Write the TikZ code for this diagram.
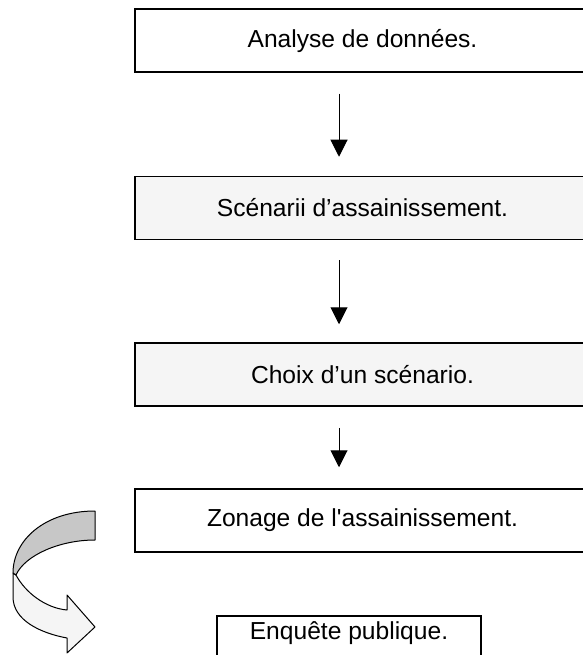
\documentclass[tikz,border=0pt]{standalone}
\usepackage{fontspec}
\setmainfont{Liberation Sans}
\usetikzlibrary{arrows.meta}

\begin{document}
\begin{tikzpicture}[x=1pt, y=-1pt, >={Triangle[width=17pt,length=17pt]},
    etape/.style={draw, line width=1.5pt, minimum width=455pt, minimum height=63pt,
        inner sep=0pt, font=\fontsize{24.6}{28}\selectfont},
    fleche/.style={->, line width=1pt}]
    \useasboundingbox (0,0) rectangle (582,655);

    % Les étapes
    \node[etape] (analyse) at (362.5,40.5) {Analyse de données.};
    \node[etape, fill=black!4] (scenarii) at (362.5,208) {Scénarii d’assainissement.};
    \node[etape, fill=black!4] (choix) at (362.5,374.5) {Choix d’un scénario.};
    \node[etape] (zonage) at (362.5,520.5) {Zonage de l\textquotesingle assainissement.};
    \node[etape, anchor=north, minimum width=264pt, minimum height=0pt,
        text height=16pt, text depth=40pt, inner ysep=8pt] (enquete) at (349,615) {Enquête publique.};

    % Les flèches
    \coordinate (axe) at (339,0);
    \draw[fleche, shorten <=21pt, shorten >=19pt] (analyse.south -| axe) -- (scenarii.north -| axe);
    \draw[fleche, shorten <=20pt, shorten >=18pt] (scenarii.south -| axe) -- (choix.north -| axe);
    \draw[fleche, shorten <=21pt, shorten >=21pt] (choix.south -| axe) -- (zonage.north -| axe);

    % Flèche courbe
    \draw[line width=1pt, line join=round, fill=black!4] (16,575) .. controls (25,592) and (45,608) .. (67,610)
        -- (67,595) -- (95,627) -- (67,653) -- (67,638)
        .. controls (40,633) and (13,620) .. (13,597) -- (13,573) -- cycle;
    \draw[line width=1pt, line join=round, fill=black!22] (95,511) .. controls (45,511) and (13,540) .. (13,573)
        -- (16,575) .. controls (25,555) and (60,540) .. (95,540) -- cycle;
\end{tikzpicture}
\end{document}
